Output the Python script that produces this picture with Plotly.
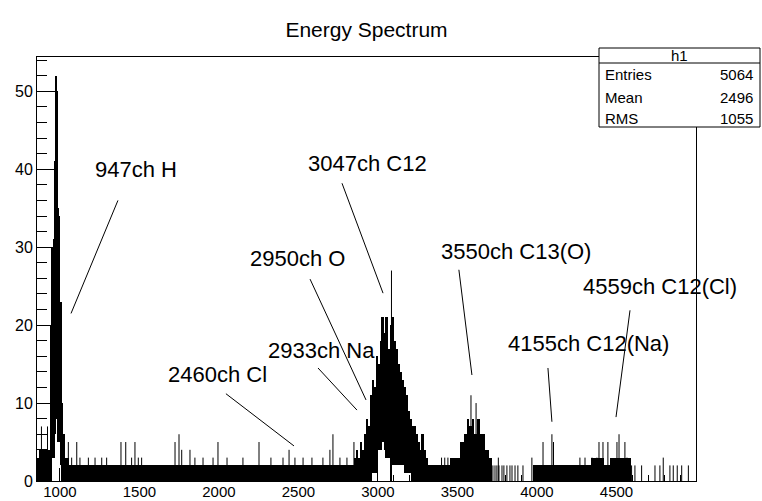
import plotly.graph_objects as go

# ---- data (channel segments: start, end, min count, max count) ----
seg_start = [856, 870, 881, 912, 925, 938, 944, 950, 957, 963, 969, 975, 982, 988, 994, 1001, 1007, 1013, 1020, 1026, 1032, 1060,
             2850, 2862, 2875, 2887, 2900, 2912, 2925, 2937, 2950, 2962, 2975, 2987, 3000, 3012, 3025, 3037, 3050, 3062, 3076, 3088,
             3100, 3112, 3125, 3137, 3150, 3164, 3175, 3187, 3200, 3214, 3225, 3237, 3250, 3262, 3275, 3287, 3300, 3312,
             3453, 3516, 3540, 3560, 3575, 3590, 3605, 3620, 3640, 3670, 3700,
             3975, 4340, 4420, 4460]
seg_end = [870, 881, 912, 925, 938, 944, 950, 957, 963, 969, 975, 982, 988, 994, 1001, 1007, 1013, 1020, 1026, 1032, 1060, 2850,
           2862, 2875, 2887, 2900, 2912, 2925, 2937, 2950, 2962, 2975, 2987, 3000, 3012, 3025, 3037, 3050, 3062, 3076, 3088, 3100,
           3112, 3125, 3137, 3150, 3164, 3175, 3187, 3200, 3214, 3225, 3237, 3250, 3262, 3275, 3287, 3300, 3312, 3453,
           3516, 3540, 3560, 3575, 3590, 3605, 3620, 3640, 3670, 3700, 3720,
           4340, 4420, 4460, 4590]
seg_lo = [0, 0, 0, 0, 0, 0, 0, 3, 3, 6, 6, 8, 8, 5, 5, 2, 2, 0, 0, 0, 0, 0,
          0, 0, 0, 0, 0, 0, 0, 0, 0, 1, 1, 1, 4, 4, 5, 4, 3, 3, 0, 2,
          2, 2, 2, 2, 2, 1, 1, 1, 1, 0, 0, 0, 0, 0, 0, 0, 0, 0,
          0, 0, 0, 0, 0, 0, 0, 0, 0, 0, 0,
          0, 0, 0, 0]
seg_hi = [3, 4, 4, 4, 4, 10, 20, 30, 31, 34, 41, 52, 50, 35, 34, 23, 15, 10, 6, 4, 3, 2,
          3, 4, 3, 5, 4, 6, 8, 7, 11, 13, 12, 16, 15, 18, 21, 19, 21, 17, 20, 21,
          18, 17, 15, 14, 13, 12, 11, 9, 8, 7, 7, 6, 5, 4, 6, 4, 3, 2,
          3, 5, 6, 8, 7, 8, 6, 8, 6, 4, 3,
          2, 3, 2, 3]

# isolated single-bin spikes (channel, count)
spike_ch = [884, 922, 1053, 1074, 1106, 1126, 1179, 1221, 1263, 1294, 1384, 1414, 1451, 1472, 1493, 1514,
            1724, 1749, 1766, 1818, 1849, 1900, 1963, 1994, 2051, 2151, 2252, 2327, 2403, 2441, 2478, 2529,
            2585, 2654, 2698, 2717, 2761, 2805, 2849, 3085, 3400, 3420, 3440, 3585, 3617, 3757,
            3723, 3736, 3748, 3761, 3780, 3792, 3811, 3830, 3843, 3862, 3880, 3912, 3968,
            4038, 4094, 4104, 4270, 4302, 4346, 4377, 4390, 4415, 4446, 4503, 4516, 4553, 4566,
            4595, 4616, 4658, 4742, 4773, 4794, 4836, 4857, 4882, 4910, 4952]
spike_cnt = [7, 7, 5, 3, 5, 3, 3, 3, 3, 3, 5, 5, 3, 5, 3, 3,
             5, 6, 4, 4, 3, 3, 3, 5, 3, 3, 5, 3, 3, 4, 3, 3,
             3, 3, 4, 6, 3, 3, 5, 27, 3, 3, 3, 11, 10, 3,
             2, 2, 2, 2, 2, 2, 2, 2, 2, 2, 2, 2, 3,
             5, 6, 5, 3, 3, 3, 3, 5, 5, 5, 5, 6, 5, 3,
             2, 2, 2, 2, 2, 3, 2, 2, 2, 2, 2]

x_tick_vals = [1000, 1500, 2000, 2500, 3000, 3500, 4000, 4500]
y_tick_vals = [0, 10, 20, 30, 40, 50]

# peak labels: text, text position (ch, count), line from (ch, count) to (ch, count)
label_text = ["947ch H", "3047ch C12", "2950ch O", "3550ch C13(O)", "2933ch Na", "2460ch Cl",
              "4155ch C12(Na)", "4559ch C12(Cl)"]
label_x = [1478, 2937, 2491, 3868, 2648, 1994, 4321, 4773]
label_y = [40.0, 40.8, 28.6, 29.4, 16.8, 13.7, 17.7, 24.9]
line_x0 = [1365, 2774, 2573, 3509, 2623, 2044, 4069, 4585]
line_y0 = [36.0, 38.2, 25.9, 27.1, 14.5, 11.2, 14.5, 21.9]
line_x1 = [1070, 3032, 2925, 3591, 2868, 2472, 4094, 4497]
line_y1 = [21.5, 24.1, 10.4, 13.6, 9.1, 4.5, 7.6, 8.2]

stat_names = ["Entries", "Mean", "RMS"]
stat_vals = ["5064", "2496", "1055"]

# ---- figure ----
FONT = "Liberation Sans, Arial, Helvetica, sans-serif"
W, H = 762, 501
L, R, T, B = 37, 66, 57, 20
pw, ph = W - L - R, H - T - B

def px(xp):
    return (xp - L) / pw

def py(yp):
    return (H - B - yp) / ph

fig = go.Figure()
fig.add_trace(go.Bar(
    x=[(a + b) / 2 for a, b in zip(seg_start, seg_end)],
    width=[b - a for a, b in zip(seg_start, seg_end)],
    base=seg_lo,
    y=[h - l for h, l in zip(seg_hi, seg_lo)],
    marker=dict(color="black", line=dict(width=0)),
    hoverinfo="skip", showlegend=False,
))
sx, sy = [], []
for c, v in zip(spike_ch, spike_cnt):
    sx += [c, c, None]
    sy += [0, v, None]
fig.add_trace(go.Scatter(x=sx, y=sy, mode="lines", line=dict(color="black", width=1),
                         hoverinfo="skip", showlegend=False))

shapes = []
annotations = []
for t, x, y, x0, y0, x1, y1 in zip(label_text, label_x, label_y, line_x0, line_y0, line_x1, line_y1):
    annotations.append(dict(x=x, y=y, xref="x", yref="y", text=t, showarrow=False,
                            font=dict(family=FONT, size=22, color="black"),
                            xanchor="center", yanchor="middle"))
    shapes.append(dict(type="line", xref="x", yref="y", x0=x0, y0=y0, x1=x1, y1=y1,
                       line=dict(color="black", width=1)))

# stats box
bx0, bx1, by0, by1, bsep = 599, 760, 48, 127, 63
shapes.append(dict(type="rect", xref="paper", yref="paper", x0=px(bx0), x1=px(bx1),
                   y0=py(by1), y1=py(by0), fillcolor="white", line=dict(color="black", width=1), layer="above"))
shapes.append(dict(type="line", xref="paper", yref="paper", x0=px(bx0), x1=px(bx1),
                   y0=py(bsep), y1=py(bsep), line=dict(color="black", width=1), layer="above"))
annotations.append(dict(x=px((bx0 + bx1) / 2), y=py((by0 + bsep) / 2), xref="paper", yref="paper",
                        text="h1", showarrow=False, font=dict(family=FONT, size=15, color="black"),
                        xanchor="center", yanchor="middle"))
row_y = [74, 97, 118]
for n, v, ry in zip(stat_names, stat_vals, row_y):
    annotations.append(dict(x=px(bx0 + 4), y=py(ry), xref="paper", yref="paper", text=n, showarrow=False,
                            font=dict(family=FONT, size=15, color="black"), xanchor="left", yanchor="middle"))
    annotations.append(dict(x=px(bx1 - 5), y=py(ry), xref="paper", yref="paper", text=v, showarrow=False,
                            font=dict(family=FONT, size=15, color="black"), xanchor="right", yanchor="middle"))

fig.update_layout(
    width=W, height=H,
    margin=dict(l=L, r=R, t=T, b=B, pad=0, autoexpand=False),
    paper_bgcolor="white", plot_bgcolor="white",
    barmode="overlay", bargap=0,
    title=dict(text="Energy Spectrum", x=(L + pw / 2) / W, xanchor="center",
               y=1 - 30 / H, yanchor="middle", font=dict(family=FONT, size=21, color="black")),
    shapes=shapes, annotations=annotations,
    xaxis=dict(range=[856, 5000], tickvals=x_tick_vals, ticktext=[str(v) for v in x_tick_vals],
               automargin=False, ticklabelstandoff=-3,
               ticks="inside", ticklen=13, tickcolor="black", tickwidth=1,
               minor=dict(tickvals=list(range(900, 5000, 100)), ticks="inside", ticklen=6, tickcolor="black"),
               showline=True, mirror=True, linecolor="black", linewidth=1,
               showgrid=False, zeroline=False,
               tickfont=dict(family=FONT, size=15, color="black")),
    yaxis=dict(range=[0, 54.4], tickvals=y_tick_vals, ticktext=[str(v) for v in y_tick_vals],
               automargin=False,
               ticks="inside", ticklen=19, tickcolor="black", tickwidth=1,
               minor=dict(tickvals=list(range(0, 55, 2)), ticks="inside", ticklen=10, tickcolor="black"),
               showline=True, mirror=True, linecolor="black", linewidth=1,
               showgrid=False, zeroline=False,
               tickfont=dict(family=FONT, size=16, color="black")),
)

fig.write_html("out.html")
